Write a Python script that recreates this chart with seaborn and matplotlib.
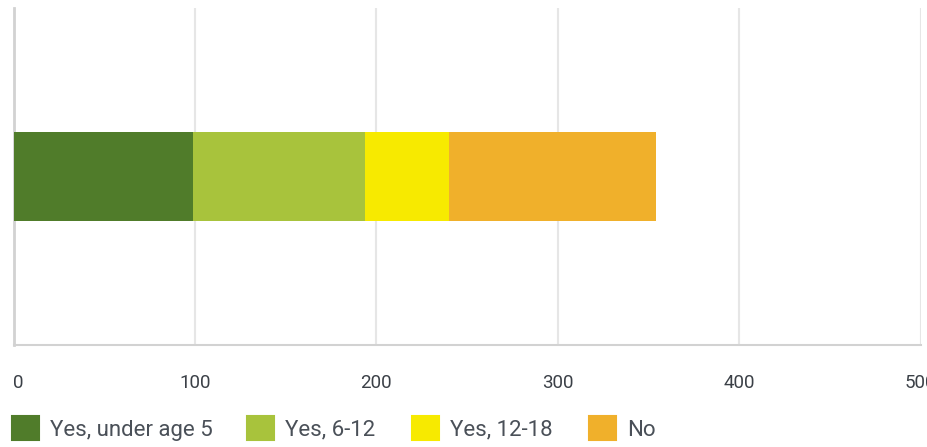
import matplotlib
matplotlib.use("Agg")
import matplotlib.pyplot as plt
import seaborn as sns
import pandas as pd
import numpy as np
from matplotlib.patches import Patch

categories = ["Yes, under age 5", "Yes, 6-12", "Yes, 12-18", "No"]
values = [99, 95, 46, 114]
colors = ["#507C2A", "#A8C33C", "#F7EA00", "#F0B02B"]
xticks = [0, 100, 200, 300, 400, 500]

sns.set_theme(style="white")
plt.rcParams['font.family'] = ['Roboto', 'DejaVu Sans']

W, H = 927, 447
fig = plt.figure(figsize=(W/100, H/100), dpi=100)
ax = fig.add_axes([13.5/W, 1-345/H, (920.7-13.5)/W, (345-8)/H])

cum = np.cumsum(values)
df = pd.DataFrame({"answer": categories, "cum": cum, "row": ["Q"]*len(categories)})
for i in range(len(categories)-1, -1, -1):
    sns.barplot(data=df.iloc[[i]], x="cum", y="row", color=colors[i],
                width=0.267, orient="h", ax=ax, saturation=1,
                linewidth=0, zorder=3)

ax.set_xlim(0, 500)
ax.set_ylim(0.5, -0.5)
ax.set_xticks(xticks)
ax.set_xticklabels([str(t) for t in xticks], fontsize=13.5, color="#3B4047")
ax.set_yticks([])
ax.set_xlabel("")
ax.set_ylabel("")
ax.xaxis.grid(True, color="#E6E6E6", linewidth=1.5, zorder=0)
ax.tick_params(axis="x", length=0, pad=21)
for s in ["top", "right"]:
    ax.spines[s].set_visible(False)
ax.spines["left"].set_color("#D2D2D2")
ax.spines["left"].set_linewidth(2)
ax.spines["bottom"].set_color("#D2D2D2")
ax.spines["bottom"].set_linewidth(1.5)
ax.set_axisbelow(True)
lbl0 = ax.get_xticklabels()[0]
lbl0.set_horizontalalignment("left")
lbl0.set_x(1.5)

# legend entries placed like the reference (one legend per entry)
legend_x = [12, 247, 412, 589]
for c, l, lx in zip(colors, categories, legend_x):
    h = Patch(facecolor=c, edgecolor=c, linewidth=1.5, joinstyle="round", label=l)
    leg = fig.legend(handles=[h], loc="center left",
                     bbox_to_anchor=(lx/W, 1-428.5/H),
                     frameon=False, fontsize=16, labelcolor="#4A5058",
                     handlelength=1.2, handleheight=1.25, handletextpad=0.5,
                     borderaxespad=0, borderpad=0)

fig.savefig("out.png", dpi=100)
